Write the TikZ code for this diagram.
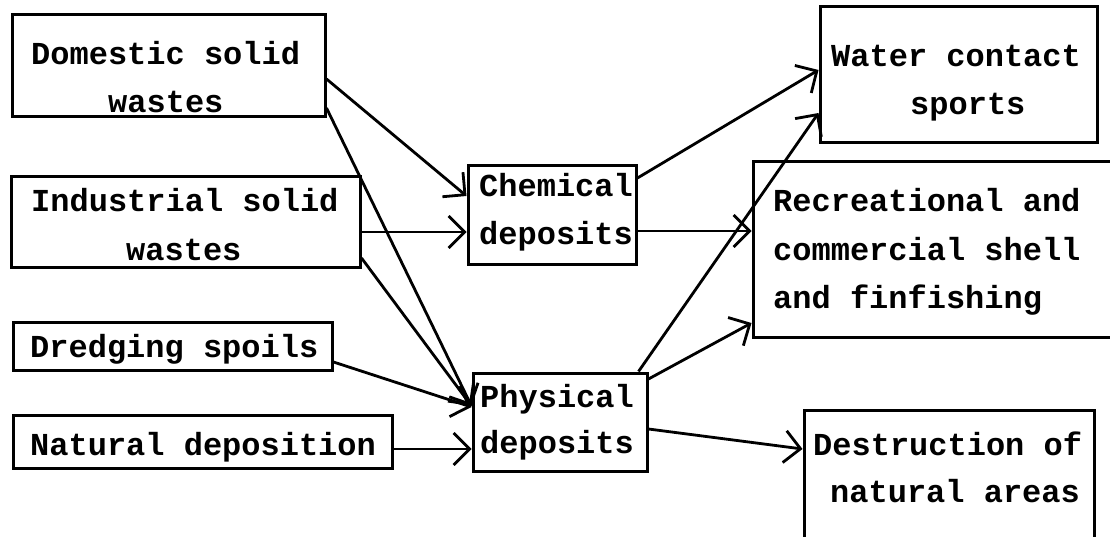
\documentclass[tikz,border=0pt]{standalone}
\usepackage{fontspec}
\setmonofont{Liberation Mono}
\usetikzlibrary{arrows.meta,fit}
\tikzset{
  box/.style={draw, line width=3pt, inner sep=0pt, fit={#1}},
  txt/.style={font=\fontsize{32}{38}\selectfont\ttfamily\bfseries, inner sep=0pt, anchor=base west},
  conn/.style={line width=2.8pt, -{Straight Barb[length=16pt,width=32pt]}}
}
\begin{document}
\begin{tikzpicture}[x=1pt,y=-1pt]
\useasboundingbox (0,0) rectangle (1110,537);
\clip (0,0) rectangle (1110,537);
\fill[white] (0,0) rectangle (1110,537);

% sources
\node[box={(12,15) (325,117)}] (dom) {};
\node[box={(11,177) (360,267)}] (ind) {};
\node[box={(13,322) (332,370)}] (dre) {};
\node[box={(13,415) (392,468)}] (nat) {};
% deposits
\node[box={(468,166) (636,264)}] (chem) {};
\node[box={(473,373) (647,471)}] (phy) {};
% uses affected
\node[box={(820,7) (1097,143)}] (wat) {};
\node[box={(753,162) (1120,337)}] (rec) {};
\node[box={(804,410) (1094,545)}] (des) {};

% labels
\node[txt] (domA) at (31,65) {Domestic solid};
\node[txt] (domB) at (108,113) {wastes};
\node[txt] (indA) at (31,212) {Industrial solid};
\node[txt] (indB) at (126,260) {wastes};
\node[txt] (dreA) at (30,357) {Dredging spoils};
\node[txt] (natA) at (30,455) {Natural deposition};
\node[txt] (chemA) at (479,197) {Chemical};
\node[txt] (chemB) at (479,245) {deposits};
\node[txt] (phyA) at (480,407) {Physical};
\node[txt] (phyB) at (480,453) {deposits};
\node[txt] (watA) at (831,67) {Water contact};
\node[txt] (watB) at (910,115) {sports};
\node[txt] (recA) at (773,212) {Recreational and};
\node[txt] (recB) at (773,260) {commercial shell};
\node[txt] (recC) at (773,308) {and finfishing};
\node[txt] (desA) at (813,455) {Destruction of};
\node[txt] (desB) at (830,502) {natural areas};

% connectors into the deposit boxes
\draw[conn] (dom.east |- 0,79) -- (chem.west |- 0,196);
\draw[conn] (dom.east |- 0,108) -- (phy.west |- 0,406);
\draw[conn] (ind.east |- 0,232) -- (chem.west |- 0,232);
\draw[conn] (ind.east |- 0,258) -- (phy.west |- 0,406);
\draw[conn] (dre.east |- 0,362) -- (phy.west |- 0,407);
\draw[conn] (nat.east |- 0,449) -- (phy.west |- 0,449);
% connectors out of the deposit boxes
\draw[conn] (chem.east |- 0,178) -- (wat.west |- 0,70);
\draw[conn] (chem.east |- 0,231) -- (rec.west |- 0,231);
\draw[conn] ([xshift=-10pt]phy.north east) -- (wat.west |- 0,113);
\draw[conn] (phy.east |- 0,379) -- (rec.west |- 0,323);
\draw[conn] (phy.east |- 0,429) -- (des.west |- 0,449);
\end{tikzpicture}
\end{document}
